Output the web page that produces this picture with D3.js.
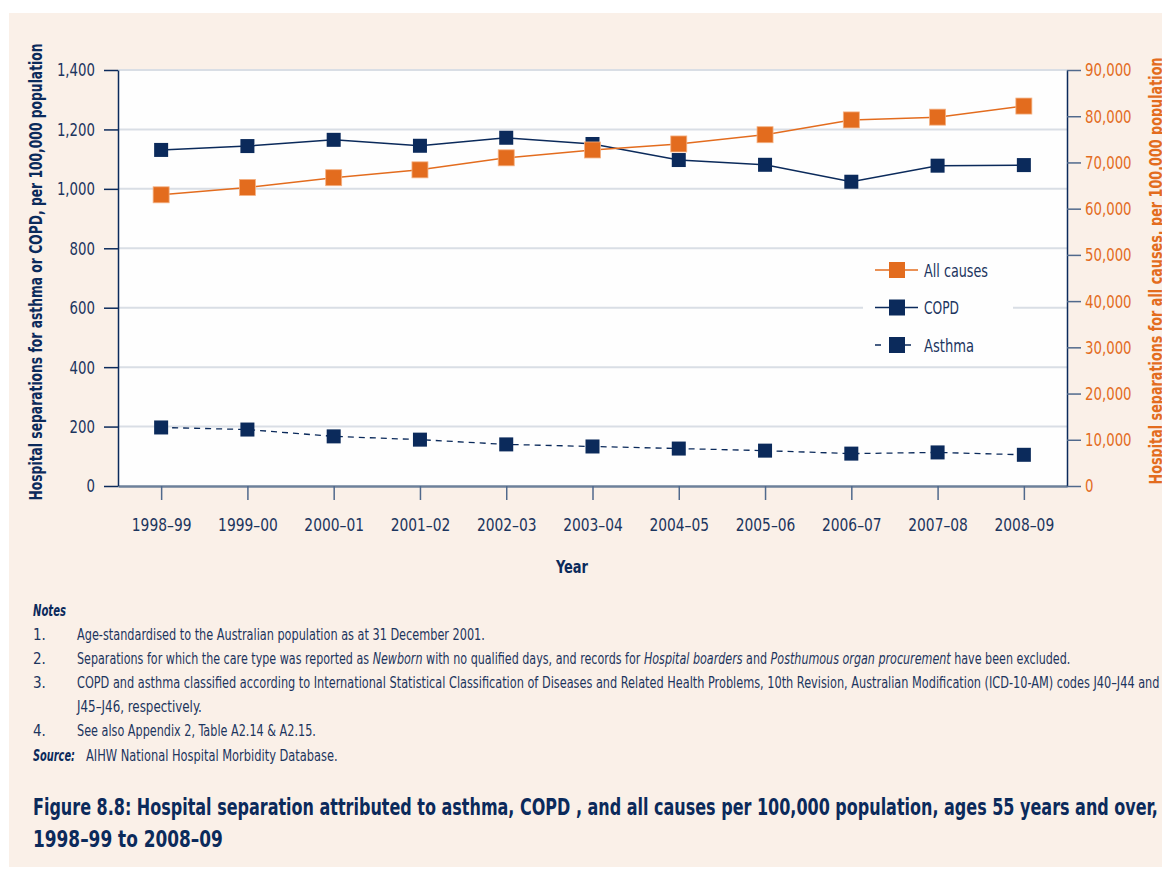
<!DOCTYPE html>
<html>
<head>
<meta charset="utf-8">
<script src="https://cdn.jsdelivr.net/npm/d3@7"></script>
<style>
  body { margin: 0; background: #fff; overflow: hidden; }
  svg text { font-family: "DejaVu Sans Condensed", "Liberation Sans Narrow", "Open Sans", sans-serif; }
</style>
</head>
<body>
<div id="chart"></div>
<script>
// data
var years = ["1998–99", "1999–00", "2000–01", "2001–02", "2002–03", "2003–04", "2004–05", "2005–06", "2006–07", "2007–08", "2008–09"];
var copd = [1131, 1144, 1165, 1145, 1172, 1151, 1097, 1081, 1024, 1078, 1080];
var asthma = [197, 190, 167, 156, 140, 133, 126, 119, 109, 113, 105];
var allCauses = [63000, 64600, 66700, 68400, 71000, 72700, 74000, 76000, 79200, 79800, 82200];
var leftTicks = [0, 200, 400, 600, 800, 1000, 1200, 1400];
var rightTicks = [0, 10000, 20000, 30000, 40000, 50000, 60000, 70000, 80000, 90000];
var notes = [
  ["1.", [["Age-standardised to the Australian population as at 31 December 2001.", false]], 408],
  ["2.", [["Separations for which the care type was reported as ", false], ["Newborn", true], [" with no qualified days, and records for ", false], ["Hospital boarders", true], [" and ", false], ["Posthumous organ procurement", true], [" have been excluded.", false]], 994],
  ["3.", [["COPD and asthma classified according to International Statistical Classification of Diseases and Related Health Problems, 10th Revision, Australian Modification (ICD-10-AM) codes J40–J44 and", false]], 1084],
  ["", [["J45–J46, respectively.", false]], 125],
  ["4.", [["See also Appendix 2, Table A2.14 & A2.15.", false]], 239]
];

var navy = "#0b2a5b", orange = "#e36c1e", textBlue = "#1c355e";

var W = 1162, H = 869;
var margin = {top: 70, right: 95, bottom: 383, left: 118},
    width = W - margin.left - margin.right,
    height = H - margin.top - margin.bottom;

var root = d3.select("#chart").append("svg")
  .attr("width", W).attr("height", H);

// squeeze a text horizontally, like the condensed face in the original
function squeeze(sel, factor) {
  sel.each(function () {
    var len = this.getComputedTextLength();
    d3.select(this).attr("textLength", len * factor).attr("lengthAdjust", "spacingAndGlyphs");
  });
}
function fitTo(sel, target) {
  sel.attr("textLength", target).attr("lengthAdjust", "spacingAndGlyphs");
}
// for texts with tspans: scale a wrapping group
function fitGroup(g, textNode, x, y, target) {
  var len = textNode.node().getComputedTextLength();
  g.attr("transform", `translate(${x},${y}) scale(${target / len},1)`);
}

root.append("rect").attr("x", 9).attr("y", 13).attr("width", W - 9).attr("height", H - 15)
  .attr("fill", "#faf0e8");

var svg = root.append("g").attr("transform", `translate(${margin.left},${margin.top})`);

svg.append("rect").attr("width", width).attr("height", height).attr("fill", "#fefefe");

var x = d3.scalePoint().domain(years).range([0, width]).padding(0.5);
var y = d3.scaleLinear().domain([0, 1400]).range([height, 0]);
var y2 = d3.scaleLinear().domain([0, 90000]).range([height, 0]);

// gridlines
svg.append("g").selectAll("line")
  .data(leftTicks.slice(1))
  .enter().append("line")
  .attr("x1", 0).attr("x2", width)
  .attr("y1", d => y(d)).attr("y2", d => y(d))
  .attr("stroke", "#d9dee5").attr("stroke-width", 2);

// legend background
var legX = 745, legY = 188;
svg.append("rect").attr("x", legX).attr("y", legY).attr("width", 150).attr("height", 104)
  .attr("fill", "#fefefe");

// axes
var xAxis = svg.append("g")
  .attr("transform", `translate(0,${height})`)
  .call(d3.axisBottom(x).tickSize(14).tickSizeOuter(0).tickPadding(20));
xAxis.select(".domain").attr("stroke", "#6d809a").attr("stroke-width", 2.5);
xAxis.selectAll(".tick line").attr("stroke", "#50698c").attr("stroke-width", 1.5);
xAxis.selectAll("text").attr("fill", textBlue).style("font-size", "18.5px").attr("dy", "0.62em");
squeeze(xAxis.selectAll("text"), 0.83);

var yAxis = svg.append("g")
  .call(d3.axisLeft(y).tickValues(leftTicks).tickSize(14).tickSizeOuter(0).tickPadding(9).tickFormat(d3.format(",")));
yAxis.select(".domain").attr("stroke", navy).attr("stroke-width", 1.5);
yAxis.selectAll(".tick line").attr("stroke", navy).attr("stroke-width", 1.5);
yAxis.selectAll("text").attr("fill", textBlue).style("font-size", "18.5px");
squeeze(yAxis.selectAll("text"), 0.8);

var yAxis2 = svg.append("g")
  .attr("transform", `translate(${width},0)`)
  .call(d3.axisRight(y2).tickValues(rightTicks).tickSize(14).tickSizeOuter(0).tickPadding(4).tickFormat(d3.format(",")));
yAxis2.select(".domain").attr("stroke", navy).attr("stroke-width", 1.5);
yAxis2.selectAll(".tick line").attr("stroke", "#50698c").attr("stroke-width", 1.5);
yAxis2.selectAll("text").attr("fill", orange).style("font-size", "18.5px");
squeeze(yAxis2.selectAll("text"), 0.8);

// lines
var lineL = d3.line().x((d, i) => x(years[i])).y(d => y(d));
var lineR = d3.line().x((d, i) => x(years[i])).y(d => y2(d));

svg.append("path").datum(asthma).attr("d", lineL)
  .attr("fill", "none").attr("stroke", navy).attr("stroke-width", 1.3).attr("stroke-dasharray", "6,5");
svg.append("path").datum(copd).attr("d", lineL)
  .attr("fill", "none").attr("stroke", navy).attr("stroke-width", 1.5);

svg.selectAll(".m-asthma").data(asthma).enter().append("rect")
  .attr("x", (d, i) => x(years[i]) - 7).attr("y", d => y(d) - 7)
  .attr("width", 14).attr("height", 14).attr("fill", navy);
svg.selectAll(".m-copd").data(copd).enter().append("rect")
  .attr("x", (d, i) => x(years[i]) - 7).attr("y", d => y(d) - 7)
  .attr("width", 14).attr("height", 14).attr("fill", navy);

svg.append("path").datum(allCauses).attr("d", lineR)
  .attr("fill", "none").attr("stroke", orange).attr("stroke-width", 1.5);
svg.selectAll(".m-all").data(allCauses).enter().append("rect")
  .attr("x", (d, i) => x(years[i]) - 8).attr("y", d => y2(d) - 8)
  .attr("width", 16).attr("height", 16).attr("fill", orange)
  .attr("stroke", "#f4b183").attr("stroke-width", 0.8);

// legend
var legend = [
  {name: "All causes", color: orange, dash: null, w: 64},
  {name: "COPD", color: navy, dash: null, w: 35},
  {name: "Asthma", color: navy, dash: "6,9", w: 50}
];
var lg = svg.append("g").attr("transform", `translate(${legX},${legY})`);
legend.forEach(function (d, i) {
  var cy = 12 + i * 37.5;
  lg.append("line").attr("x1", 12).attr("x2", 55).attr("y1", cy).attr("y2", cy)
    .attr("stroke", d.color).attr("stroke-width", 1.5)
    .attr("stroke-dasharray", d.dash);
  lg.append("rect").attr("x", 34 - 8).attr("y", cy - 8)
    .attr("width", 16).attr("height", 16).attr("fill", d.color);
  var t = lg.append("text").attr("x", 61).attr("y", cy).attr("dy", "0.36em")
    .attr("fill", textBlue).style("font-size", "18.5px").text(d.name);
  fitTo(t, d.w);
});

// axis titles
var yl = root.append("text")
  .attr("transform", `translate(42,272) rotate(-90)`)
  .attr("text-anchor", "middle")
  .attr("fill", navy).style("font-size", "17px").style("font-weight", "bold")
  .text("Hospital separations for asthma or COPD, per 100,000 population");
fitTo(yl, 457);

var yr = root.append("text")
  .attr("transform", `translate(1162,271) rotate(-90)`)
  .attr("text-anchor", "middle")
  .attr("fill", orange).style("font-size", "17px").style("font-weight", "bold")
  .text("Hospital separations for all causes, per 100,000 population");
fitTo(yr, 427);

var xt = root.append("text")
  .attr("x", 572).attr("y", 573)
  .attr("text-anchor", "middle")
  .attr("fill", navy).style("font-size", "18px").style("font-weight", "bold")
  .text("Year");
fitTo(xt, 32);

// notes
var nt = root.append("text").attr("x", 33).attr("y", 616)
  .attr("fill", navy).style("font-size", "15px").style("font-weight", "bold").style("font-style", "italic")
  .text("Notes");
fitTo(nt, 33);

notes.forEach(function (n, i) {
  var ty = 639.5 + i * 24.2;
  var num = root.append("text").attr("x", 33).attr("y", ty)
    .attr("fill", textBlue).style("font-size", "15px").text(n[0]);
  var g = root.append("g");
  var t = g.append("text").attr("fill", textBlue).style("font-size", "15px");
  n[1].forEach(function (p) {
    t.append("tspan").style("font-style", p[1] ? "italic" : "normal").text(p[0]);
  });
  fitGroup(g, t, 77, ty, n[2]);
});

var sl = root.append("text").attr("x", 33).attr("y", 760.5)
  .attr("fill", navy).style("font-size", "15px").style("font-weight", "bold").style("font-style", "italic")
  .text("Source:");
fitTo(sl, 42);
var sg = root.append("g");
var st = sg.append("text").attr("fill", textBlue).style("font-size", "15px")
  .text("AIHW National Hospital Morbidity Database.");
fitGroup(sg, st, 86, 760.5, 252);

// caption
var c1g = root.append("g");
var c1 = c1g.append("text").attr("fill", navy).style("font-size", "22.5px").style("font-weight", "bold")
  .text("Figure 8.8: Hospital separation attributed to asthma, COPD , and all causes per 100,000 population, ages 55 years and over,");
fitGroup(c1g, c1, 33, 815, 1126);
var c2g = root.append("g");
var c2 = c2g.append("text").attr("fill", navy).style("font-size", "22.5px").style("font-weight", "bold")
  .text("1998–99 to 2008–09");
fitGroup(c2g, c2, 33, 847, 190);
</script>
</body>
</html>
